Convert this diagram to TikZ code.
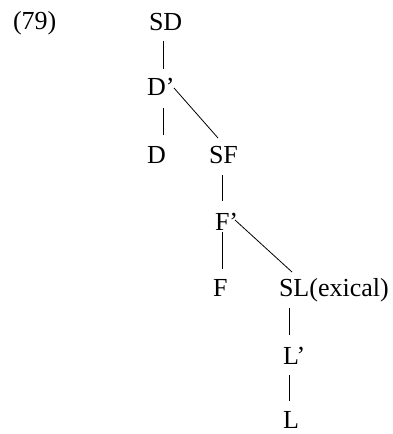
\documentclass[tikz,border=0pt]{standalone}
\usepackage{fontspec}
\setmainfont{Liberation Serif}
\usetikzlibrary{calc}
\tikzset{
  lab/.style={anchor=base west, inner sep=0pt, outer sep=0pt, font=\fontsize{26}{30}\selectfont},
  edge/.style={draw=black, line width=0.8pt}
}
\begin{document}
\begin{tikzpicture}[x=1pt,y=-1pt]
\useasboundingbox (0,2) rectangle (393,436);
\node[lab] (n79) at (13,31) {(79)};
\node[lab] (SD) at (149,32) {SD};
\node[lab] (Dp) at (147,97) {D’};
\node[lab] (D) at (147,165) {D};
\node[lab] (SF) at (209,165) {SF};
\node[lab] (Fp) at (215,232) {F’};
\node[lab] (F) at (213,298) {F};
\node[lab] (SL) at (279,298) {SL(exical)};
\node[lab] (Lp) at (283,366) {L’};
\node[lab] (L) at (283,430) {L};
\draw[edge] ($(SD.base west)+(14,11)$) -- ($(Dp.base west)+(16,-26)$);
\draw[edge] ($(Dp.base west)+(16,13)$) -- ($(D.base west)+(16,-28)$);
\draw[edge] ($(Dp.base west)+(27,-7)$) -- ($(SF.base west)+(9,-25)$);
\draw[edge] ($(SF.base west)+(13,12)$) -- ($(Fp.base west)+(7,-29)$);
\draw[edge] ($(Fp.base west)+(7,2)$) -- ($(F.base west)+(9,-27)$);
\draw[edge] ($(Fp.base west)+(20,-10)$) -- ($(SL.base west)+(13,-24)$);
\draw[edge] ($(SL.base west)+(10,12)$) -- ($(Lp.base west)+(6,-29)$);
\draw[edge] ($(Lp.base west)+(6,11)$) -- ($(L.base west)+(6,-27)$);
\end{tikzpicture}
\end{document}
